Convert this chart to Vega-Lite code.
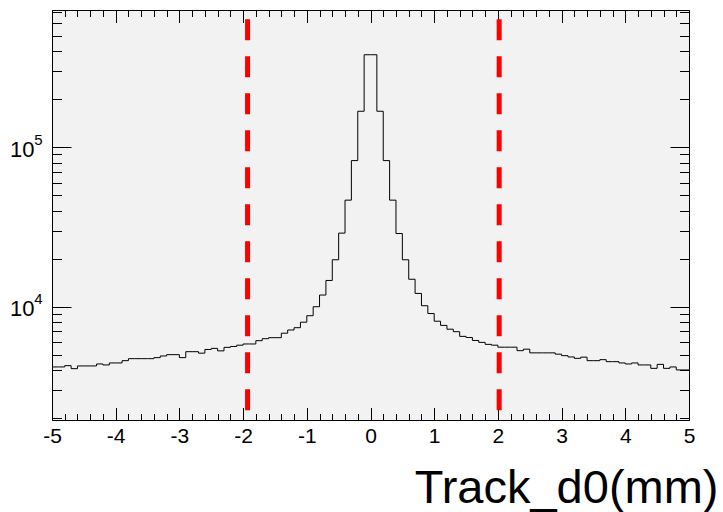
{
  "$schema": "https://vega.github.io/schema/vega-lite/v6.json",
  "width": 637,
  "height": 410,
  "autosize": {"type": "none"},
  "padding": {"left": 52, "top": 10, "right": 34, "bottom": 92},
  "background": "#ffffff",
  "config": {
    "view": {"fill": "#f2f2f2", "stroke": "#000000", "strokeWidth": 1},
    "font": "Liberation Sans",
    "axis": {"domain": false, "grid": false, "tickColor": "#000000", "tickWidth": 1, "labelColor": "#000000", "titleColor": "#000000"}
  },
  "datasets": {
    "hist": [
      {"lo": -5.0, "hi": -4.9, "n": 4193}, {"lo": -4.9, "hi": -4.8, "n": 4193},
      {"lo": -4.8, "hi": -4.7, "n": 4273}, {"lo": -4.7, "hi": -4.6, "n": 4091},
      {"lo": -4.6, "hi": -4.5, "n": 4254}, {"lo": -4.5, "hi": -4.4, "n": 4254},
      {"lo": -4.4, "hi": -4.3, "n": 4254}, {"lo": -4.3, "hi": -4.2, "n": 4378},
      {"lo": -4.2, "hi": -4.1, "n": 4316}, {"lo": -4.1, "hi": -4.0, "n": 4442},
      {"lo": -4.0, "hi": -3.9, "n": 4442}, {"lo": -3.9, "hi": -3.8, "n": 4591},
      {"lo": -3.8, "hi": -3.7, "n": 4726}, {"lo": -3.7, "hi": -3.6, "n": 4726},
      {"lo": -3.6, "hi": -3.5, "n": 4726}, {"lo": -3.5, "hi": -3.4, "n": 4726},
      {"lo": -3.4, "hi": -3.3, "n": 4795}, {"lo": -3.3, "hi": -3.2, "n": 4913},
      {"lo": -3.2, "hi": -3.1, "n": 5006}, {"lo": -3.1, "hi": -3.0, "n": 5006},
      {"lo": -3.0, "hi": -2.9, "n": 4795}, {"lo": -2.9, "hi": -2.8, "n": 5227},
      {"lo": -2.8, "hi": -2.7, "n": 5227}, {"lo": -2.7, "hi": -2.6, "n": 5116},
      {"lo": -2.6, "hi": -2.5, "n": 5396}, {"lo": -2.5, "hi": -2.4, "n": 5482},
      {"lo": -2.4, "hi": -2.3, "n": 5288}, {"lo": -2.3, "hi": -2.2, "n": 5562},
      {"lo": -2.2, "hi": -2.1, "n": 5634}, {"lo": -2.1, "hi": -2.0, "n": 5741},
      {"lo": -2.0, "hi": -1.9, "n": 5841}, {"lo": -1.9, "hi": -1.8, "n": 5841},
      {"lo": -1.8, "hi": -1.7, "n": 6126}, {"lo": -1.7, "hi": -1.6, "n": 6305},
      {"lo": -1.6, "hi": -1.5, "n": 6397}, {"lo": -1.5, "hi": -1.4, "n": 6397},
      {"lo": -1.4, "hi": -1.3, "n": 6825}, {"lo": -1.3, "hi": -1.2, "n": 7148},
      {"lo": -1.2, "hi": -1.1, "n": 7388}, {"lo": -1.1, "hi": -1.0, "n": 7998},
      {"lo": -1.0, "hi": -0.9, "n": 8783}, {"lo": -0.9, "hi": -0.8, "n": 10000},
      {"lo": -0.8, "hi": -0.7, "n": 11837}, {"lo": -0.7, "hi": -0.6, "n": 14610},
      {"lo": -0.6, "hi": -0.5, "n": 19690}, {"lo": -0.5, "hi": -0.4, "n": 28930},
      {"lo": -0.4, "hi": -0.3, "n": 46550}, {"lo": -0.3, "hi": -0.2, "n": 82380},
      {"lo": -0.2, "hi": -0.1, "n": 167900}, {"lo": -0.1, "hi": 0.0, "n": 379600},
      {"lo": 0.0, "hi": 0.1, "n": 379600}, {"lo": 0.1, "hi": 0.2, "n": 167900},
      {"lo": 0.2, "hi": 0.3, "n": 82380}, {"lo": 0.3, "hi": 0.4, "n": 46550},
      {"lo": 0.4, "hi": 0.5, "n": 28760}, {"lo": 0.5, "hi": 0.6, "n": 19690},
      {"lo": 0.6, "hi": 0.7, "n": 14865}, {"lo": 0.7, "hi": 0.8, "n": 12113},
      {"lo": 0.8, "hi": 0.9, "n": 10145}, {"lo": 0.9, "hi": 1.0, "n": 9066},
      {"lo": 1.0, "hi": 1.1, "n": 8114}, {"lo": 1.1, "hi": 1.2, "n": 7638},
      {"lo": 1.2, "hi": 1.3, "n": 7230}, {"lo": 1.3, "hi": 1.4, "n": 6974},
      {"lo": 1.4, "hi": 1.5, "n": 6518}, {"lo": 1.5, "hi": 1.6, "n": 6415},
      {"lo": 1.6, "hi": 1.7, "n": 6143}, {"lo": 1.7, "hi": 1.8, "n": 5977},
      {"lo": 1.8, "hi": 1.9, "n": 5808}, {"lo": 1.9, "hi": 2.0, "n": 5741},
      {"lo": 2.0, "hi": 2.1, "n": 5578}, {"lo": 2.1, "hi": 2.2, "n": 5578},
      {"lo": 2.2, "hi": 2.3, "n": 5578}, {"lo": 2.3, "hi": 2.4, "n": 5304},
      {"lo": 2.4, "hi": 2.5, "n": 5420}, {"lo": 2.5, "hi": 2.6, "n": 5138},
      {"lo": 2.6, "hi": 2.7, "n": 5138}, {"lo": 2.7, "hi": 2.8, "n": 5138},
      {"lo": 2.8, "hi": 2.9, "n": 5138}, {"lo": 2.9, "hi": 3.0, "n": 5043},
      {"lo": 3.0, "hi": 3.1, "n": 4935}, {"lo": 3.1, "hi": 3.2, "n": 4843},
      {"lo": 3.2, "hi": 3.3, "n": 4747}, {"lo": 3.3, "hi": 3.4, "n": 4830},
      {"lo": 3.4, "hi": 3.5, "n": 4591}, {"lo": 3.5, "hi": 3.6, "n": 4591},
      {"lo": 3.6, "hi": 3.7, "n": 4658}, {"lo": 3.7, "hi": 3.8, "n": 4526},
      {"lo": 3.8, "hi": 3.9, "n": 4526}, {"lo": 3.9, "hi": 4.0, "n": 4442},
      {"lo": 4.0, "hi": 4.1, "n": 4378}, {"lo": 4.1, "hi": 4.2, "n": 4442},
      {"lo": 4.2, "hi": 4.3, "n": 4316}, {"lo": 4.3, "hi": 4.4, "n": 4316},
      {"lo": 4.4, "hi": 4.5, "n": 4109}, {"lo": 4.5, "hi": 4.6, "n": 4353},
      {"lo": 4.6, "hi": 4.7, "n": 4109}, {"lo": 4.7, "hi": 4.8, "n": 4193},
      {"lo": 4.8, "hi": 4.9, "n": 4016}, {"lo": 4.9, "hi": 5.0, "n": 4016}
    ],
    "cuts": [
      {"cut": "low", "d0": -1.93, "ymin": 2243, "ymax": 664000},
      {"cut": "high", "d0": 2.02, "ymin": 2243, "ymax": 664000}
    ]
  },
  "layer": [
    {
      "data": {"name": "hist"},
      "transform": [{"fold": ["lo", "hi"], "as": ["edge", "d0"]}],
      "mark": {"type": "line", "color": "#000000", "strokeWidth": 1, "interpolate": "linear"},
      "encoding": {
        "x": {
          "field": "d0", "type": "quantitative",
          "scale": {"domain": [-5, 5], "nice": false, "zero": false},
          "axis": {
            "orient": "bottom",
            "values": [-5, -4.8, -4.6, -4.4, -4.2, -4, -3.8, -3.6, -3.4, -3.2, -3, -2.8, -2.6, -2.4, -2.2, -2, -1.8, -1.6, -1.4, -1.2, -1, -0.8, -0.6, -0.4, -0.2, 0, 0.2, 0.4, 0.6, 0.8, 1, 1.2, 1.4, 1.6, 1.8, 2, 2.2, 2.4, 2.6, 2.8, 3, 3.2, 3.4, 3.6, 3.8, 4, 4.2, 4.4, 4.6, 4.8, 5],
            "tickSize": {"condition": {"test": "abs(datum.value - round(datum.value)) < 0.001", "value": -12.5}, "value": -6.5},
            "labelExpr": "abs(datum.value - round(datum.value)) < 0.001 ? '' + round(datum.value) : ''",
            "labelFontSize": 21,
            "labelPadding": 17.5,
            "labelFlush": false,
            "labelOverlap": false,
            "labelBound": false,
            "title": "Track_d0(mm)",
            "titleFontSize": 47,
            "titleFontWeight": "normal",
            "titleAlign": "right",
            "titleBaseline": "alphabetic",
            "titleX": 666,
            "titleY": 82
          }
        },
        "y": {
          "field": "n", "type": "quantitative",
          "scale": {"type": "log", "domain": [1950, 724000], "nice": false},
          "axis": {
            "orient": "left",
            "values": [2000, 3000, 4000, 5000, 6000, 7000, 8000, 9000, 10000, 20000, 30000, 40000, 50000, 60000, 70000, 80000, 90000, 100000, 200000, 300000, 400000, 500000, 600000, 700000],
            "tickSize": {"condition": {"test": "datum.value == 10000 || datum.value == 100000", "value": -19}, "value": -9.5},
            "labelExpr": "datum.value == 10000 || datum.value == 100000 ? '10' : ''",
            "labelFontSize": 22,
            "labelPadding": 37,
            "labelOffset": 2,
            "labelOverlap": false,
            "labelBound": false,
            "title": null
          }
        },
        "order": [
          {"field": "d0", "type": "quantitative", "sort": "ascending"},
          {"field": "edge", "type": "ordinal", "sort": "ascending"}
        ]
      }
    },
    {
      "data": {"name": "cuts"},
      "transform": [{"filter": "datum.cut == 'low'"}],
      "mark": {"type": "rule", "color": "#ff0000", "strokeWidth": 5, "strokeDash": [21, 16]},
      "encoding": {
        "x": {
          "field": "d0", "type": "quantitative",
          "axis": {
            "orient": "top",
            "values": [-5, -4.8, -4.6, -4.4, -4.2, -4, -3.8, -3.6, -3.4, -3.2, -3, -2.8, -2.6, -2.4, -2.2, -2, -1.8, -1.6, -1.4, -1.2, -1, -0.8, -0.6, -0.4, -0.2, 0, 0.2, 0.4, 0.6, 0.8, 1, 1.2, 1.4, 1.6, 1.8, 2, 2.2, 2.4, 2.6, 2.8, 3, 3.2, 3.4, 3.6, 3.8, 4, 4.2, 4.4, 4.6, 4.8, 5],
            "tickSize": {"condition": {"test": "abs(datum.value - round(datum.value)) < 0.001", "value": -12.5}, "value": -6.5},
            "labels": false,
            "title": null
          }
        },
        "y": {
          "field": "ymin", "type": "quantitative",
          "axis": {
            "orient": "right",
            "values": [2000, 3000, 4000, 5000, 6000, 7000, 8000, 9000, 10000, 20000, 30000, 40000, 50000, 60000, 70000, 80000, 90000, 100000, 200000, 300000, 400000, 500000, 600000, 700000],
            "tickSize": {"condition": {"test": "datum.value == 10000 || datum.value == 100000", "value": -19}, "value": -9.5},
            "labels": false,
            "title": null
          }
        },
        "y2": {"field": "ymax"}
      }
    },
    {
      "data": {"name": "cuts"},
      "transform": [{"filter": "datum.cut == 'high'"}],
      "mark": {"type": "rule", "color": "#ff0000", "strokeWidth": 5, "strokeDash": [21, 16]},
      "encoding": {
        "x": {"field": "d0", "type": "quantitative", "axis": null},
        "y": {
          "field": "ymin", "type": "quantitative",
          "axis": {
            "orient": "left",
            "values": [10000, 100000],
            "ticks": false,
            "labelExpr": "datum.value == 10000 ? '4' : '5'",
            "labelFontSize": 15,
            "labelPadding": 10,
            "labelOffset": -8,
            "labelOverlap": false,
            "labelBound": false,
            "title": null
          }
        },
        "y2": {"field": "ymax"}
      }
    }
  ],
  "resolve": {
    "scale": {"x": "shared", "y": "shared"},
    "axis": {"x": "independent", "y": "independent"}
  }
}
